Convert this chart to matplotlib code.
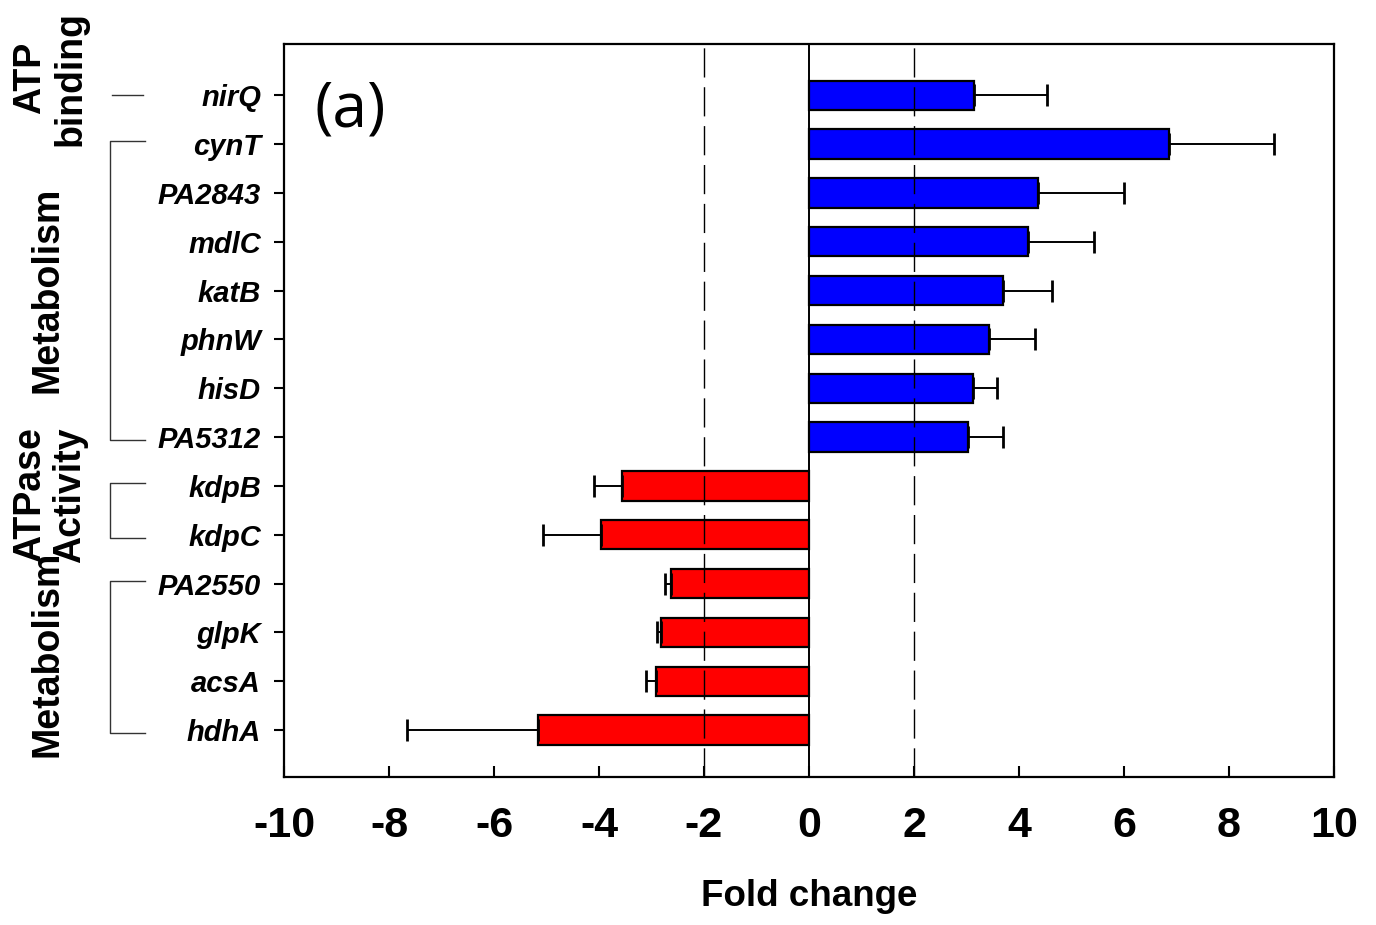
import matplotlib
matplotlib.use('Agg')
import matplotlib.pyplot as plt
import numpy as np

plt.rcParams['axes.unicode_minus'] = False

# Fold change of genes

genes = ['nirQ', 'cynT', 'PA2843', 'mdlC', 'katB', 'phnW', 'hisD', 'PA5312',
         'kdpB', 'kdpC', 'PA2550', 'glpK', 'acsA', 'hdhA']
fold = [3.15, 6.85, 4.36, 4.17, 3.69, 3.42, 3.13, 3.02,
        -3.56, -3.96, -2.62, -2.81, -2.91, -5.16]
err = [1.38, 2.00, 1.64, 1.26, 0.94, 0.89, 0.45, 0.67,
       0.53, 1.11, 0.13, 0.08, 0.19, 2.50]

# functional groups: (label, first row, last row)
groups = [('ATP\nbinding', 0, 0), ('Metabolism', 1, 7),
          ('ATPase\nActivity', 8, 9), ('Metabolism', 10, 13)]
group_pos = [(50, 78), (48, 290), (50, 495), (48, 654)]  # figure pixels

W, H = 1376, 925
fig = plt.figure(figsize=(W / 100, H / 100), dpi=100)
ax = fig.add_axes([284 / W, 1 - 777 / H, 1050 / W, 733 / H])

y = np.arange(len(genes))
fold = np.array(fold)
err = np.array(err)
colors = ['#0000ff' if v > 0 else '#ff0000' for v in fold]

lo = np.where(fold < 0, err, 0)
hi = np.where(fold > 0, err, 0)
ax.barh(y, fold, height=0.6, color=colors, edgecolor='black', linewidth=1.6, zorder=2)
ax.errorbar(fold, y, xerr=[lo, hi], fmt='none', ecolor='black', elinewidth=1.4,
            capsize=8, capthick=2.0, zorder=3)

ax.axvline(0, color='black', lw=1.4, zorder=4)
for xv in (-2, 2):
    ax.axvline(xv, color='black', lw=1.0, ls=(0, (21, 7)), zorder=4)

ax.set_xlim(-10, 10)
ax.set_ylim(13.96, -1.05)
ax.set_xticks(np.arange(-10, 11, 2))
ax.set_yticks(y)
ax.set_yticklabels(genes, fontsize=21, fontweight='bold', fontstyle='italic',
                   family='Liberation Sans')
for lab in ax.get_xticklabels():
    lab.set_fontsize(31)
    lab.set_fontweight('bold')
    lab.set_family('Liberation Sans')
ax.tick_params(axis='x', direction='in', length=8, width=1.5, pad=21)
ax.tick_params(axis='y', direction='out', length=7.5, width=1.5, pad=9)
for s in ax.spines.values():
    s.set_linewidth(1.6)

ax.set_xlabel('Fold change', fontsize=26.5, fontweight='bold', family='Liberation Sans',
              labelpad=24)
ax.text(0.029, 0.91, '(a)', transform=ax.transAxes, fontsize=45, family='Open Sans',
        va='center', ha='left')

# group brackets on the left
tr = ax.get_yaxis_transform()
xa = (110 - 284) / 1050
xb = (145 - 284) / 1050
for (name, r0, r1), (px, py) in zip(groups, group_pos):
    if r0 == r1:
        ax.plot([(112 - 284) / 1050, (143 - 284) / 1050], [r0, r0], color='#333333',
                lw=1.0, transform=tr, clip_on=False)
    else:
        ax.plot([xb, xa, xa, xb], [r0 - 0.06, r0 - 0.06, r1 + 0.06, r1 + 0.06],
                color='#333333', lw=1.0, transform=tr, clip_on=False)
    fig.text(px / W, 1 - py / H, name, rotation=90, fontsize=27, fontweight='bold',
             family='Liberation Sans', ha='center', va='center', multialignment='center',
             linespacing=1.15)

fig.savefig('out.png', dpi=100)
print('Saving out.png')
